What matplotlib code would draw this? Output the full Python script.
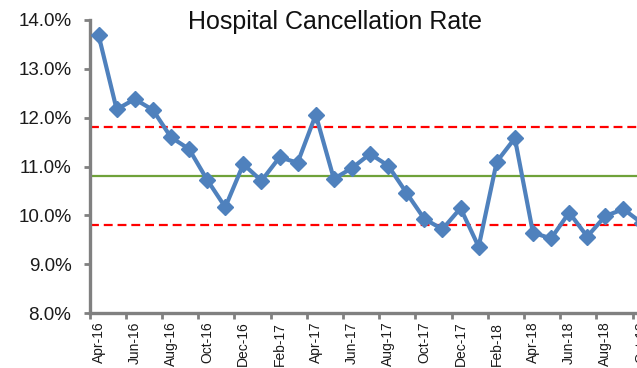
import matplotlib
matplotlib.use("Agg")
import matplotlib.pyplot as plt
from matplotlib.ticker import PercentFormatter, FixedLocator

plt.rcParams['font.family'] = ['Liberation Sans', 'DejaVu Sans']

months = ["Apr-16", "May-16", "Jun-16", "Jul-16", "Aug-16", "Sep-16", "Oct-16",
          "Nov-16", "Dec-16", "Jan-17", "Feb-17", "Mar-17", "Apr-17", "May-17",
          "Jun-17", "Jul-17", "Aug-17", "Sep-17", "Oct-17", "Nov-17", "Dec-17",
          "Jan-18", "Feb-18", "Mar-18", "Apr-18", "May-18", "Jun-18", "Jul-18",
          "Aug-18", "Sep-18", "Oct-18"]
rate = [13.69, 12.17, 12.38, 12.16, 11.60, 11.36, 10.73, 10.17, 11.05, 10.71,
        11.19, 11.08, 12.06, 10.75, 10.97, 11.26, 11.02, 10.47, 9.93, 9.72,
        10.15, 9.36, 11.10, 11.58, 9.65, 9.53, 10.06, 9.57, 9.99, 10.13, 9.85]
centre_line = 10.81
upper_limit = 11.82
lower_limit = 9.80

W, H = 637, 368
fig = plt.figure(figsize=(W / 100, H / 100), dpi=100)

step = 18.1
left_px, bottom_px, top_px = 89.5, 313.3, 19.9
ax = fig.add_axes([left_px / W, (H - bottom_px) / H,
                   len(months) * step / W, (bottom_px - top_px) / H])

x = list(range(len(months)))
ax.axhline(upper_limit, color="#FF0000", lw=1.6, ls=(0, (4, 2.2)), zorder=2)
ax.axhline(lower_limit, color="#FF0000", lw=1.6, ls=(0, (4, 2.2)), zorder=2)
ax.axhline(centre_line, color="#6FA23A", lw=1.6, zorder=2)
ax.plot(x, rate, color="#4F81BD", lw=3, marker="D", markersize=8,
        markeredgecolor="#4F81BD", zorder=3)

ax.set_xlim(-0.5, len(months) - 0.5)
ax.set_ylim(8, 14)
ax.set_yticks([8, 9, 10, 11, 12, 13, 14])
ax.yaxis.set_major_formatter(PercentFormatter(xmax=100, decimals=1))

# tick marks sit on category boundaries, labels on every second category
ax.xaxis.set_major_locator(FixedLocator([i - 0.5 for i in range(0, len(months) + 1, 2)]))
ax.xaxis.set_major_formatter(plt.NullFormatter())
ax.xaxis.set_minor_locator(FixedLocator(list(range(0, len(months), 2))))
ax.set_xticklabels(months[::2], minor=True, rotation=90)

for side in ("top", "right"):
    ax.spines[side].set_visible(False)
for side in ("left", "bottom"):
    ax.spines[side].set_color("#808080")
    ax.spines[side].set_linewidth(2.4)

ax.tick_params(axis="y", which="major", direction="out", length=4, width=2,
               color="#808080", labelsize=13.5, labelcolor="#1a1a1a", pad=9)
ax.tick_params(axis="x", which="major", direction="out", length=4, width=2,
               color="#808080")
ax.tick_params(axis="x", which="minor", length=0, labelsize=10,
               labelcolor="#1a1a1a", pad=6)

fig.text(335 / W, 1 - 22 / H, "Hospital Cancellation Rate", ha="center",
         va="center", fontsize=18, color="#111111")

fig.savefig("out.png", dpi=100)
